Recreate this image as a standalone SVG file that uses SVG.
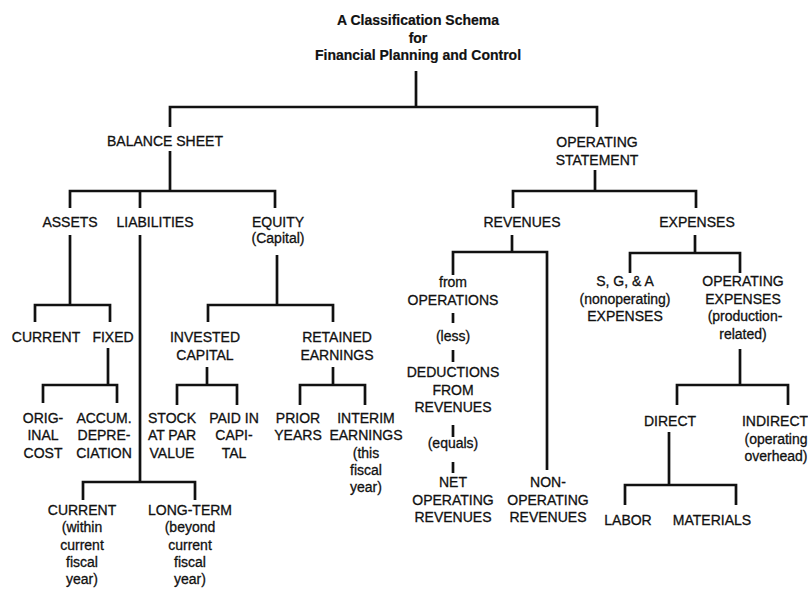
<svg xmlns="http://www.w3.org/2000/svg" width="808" height="592" viewBox="0 0 808 592">
  <style>
    text { font-family: "Liberation Sans", Arial, Helvetica, sans-serif; font-size: 14px; fill: #111; stroke: #111; stroke-width: 0.3; text-anchor: middle; }
    .title { font-weight: bold; stroke-width: 0.2; }
    .wire { fill: none; stroke: #111; stroke-width: 2.7; stroke-linejoin: miter; stroke-linecap: butt; }
  </style>
  <rect width="808" height="592" fill="#fff"/>

  <!-- tree connectors -->
  <g id="connectors" class="wire">
    <path d="M416,71 V107 M170,127 V107 H597 V127"/>
    <path d="M170,151 V191 M70,208 V191 H275 V208 M140,191 V208"/>
    <path d="M70,235 V305 M35,322 V305 H110 V322"/>
    <path d="M108,348 V385 M43,403 V385 H117 V403"/>
    <path d="M140,235 V482 M83,500 V482 H195 V500"/>
    <path d="M277,255 V305 M208,322 V305 H333 V322"/>
    <path d="M207,367 V385 M177,405 V385 H237 V405"/>
    <path d="M333,367 V385 M300,405 V385 H365 V405"/>
    <path d="M595,170 V191 M513,208 V191 H696 V208"/>
    <path d="M512,235 V252 M453,275 V252 H547 V470"/>
    <path d="M453,313 V323 M453,350 V362 M453,425 V437 M453,462 V473"/>
    <path d="M695,235 V253 M630,273 V253 H740 V273"/>
    <path d="M740,349 V385 M677,405 V385 H788 V405"/>
    <path d="M669,432 V485 M625,505 V485 H736 V505"/>
  </g>

  <g id="title">
    <text class="title" x="418" y="25">A Classification Schema</text>
    <text class="title" x="418" y="42.5">for</text>
    <text class="title" x="418" y="60">Financial Planning and Control</text>
  </g>

  <!-- balance sheet side -->
  <g id="balance-sheet"><text x="165" y="146">BALANCE SHEET</text></g>
  <g id="assets"><text x="70" y="227">ASSETS</text></g>
  <g id="liabilities"><text x="155" y="227">LIABILITIES</text></g>
  <g id="equity">
    <text x="278" y="227">EQUITY</text>
    <text x="278" y="243">(Capital)</text>
  </g>
  <g id="current-assets"><text x="46" y="342">CURRENT</text></g>
  <g id="fixed-assets"><text x="113" y="342">FIXED</text></g>
  <g id="original-cost">
    <text x="43" y="423">ORIG-</text>
    <text x="43" y="440">INAL</text>
    <text x="43" y="457.5">COST</text>
  </g>
  <g id="accum-depreciation">
    <text x="104" y="423">ACCUM.</text>
    <text x="104" y="440">DEPRE-</text>
    <text x="104" y="457.5">CIATION</text>
  </g>
  <g id="invested-capital">
    <text x="205" y="342">INVESTED</text>
    <text x="205" y="359.5">CAPITAL</text>
  </g>
  <g id="retained-earnings">
    <text x="337" y="342">RETAINED</text>
    <text x="337" y="359.5">EARNINGS</text>
  </g>
  <g id="stock-at-par">
    <text x="172" y="423">STOCK</text>
    <text x="172" y="440">AT PAR</text>
    <text x="172" y="457.5">VALUE</text>
  </g>
  <g id="paid-in-capital">
    <text x="234" y="423">PAID IN</text>
    <text x="234" y="440">CAPI-</text>
    <text x="234" y="457.5">TAL</text>
  </g>
  <g id="prior-years">
    <text x="298" y="423">PRIOR</text>
    <text x="298" y="440">YEARS</text>
  </g>
  <g id="interim-earnings">
    <text x="366" y="423">INTERIM</text>
    <text x="366" y="440">EARNINGS</text>
    <text x="366" y="457.5">(this</text>
    <text x="366" y="475">fiscal</text>
    <text x="366" y="492">year)</text>
  </g>
  <g id="current-liabilities">
    <text x="82" y="515">CURRENT</text>
    <text x="82" y="532">(within</text>
    <text x="82" y="549.5">current</text>
    <text x="82" y="567">fiscal</text>
    <text x="82" y="584">year)</text>
  </g>
  <g id="long-term-liabilities">
    <text x="190" y="515">LONG-TERM</text>
    <text x="190" y="532">(beyond</text>
    <text x="190" y="549.5">current</text>
    <text x="190" y="567">fiscal</text>
    <text x="190" y="584">year)</text>
  </g>

  <!-- operating statement side -->
  <g id="operating-statement">
    <text x="597" y="147">OPERATING</text>
    <text x="597" y="165">STATEMENT</text>
  </g>
  <g id="revenues"><text x="522" y="227">REVENUES</text></g>
  <g id="expenses"><text x="697" y="227">EXPENSES</text></g>
  <g id="from-operations">
    <text x="453" y="287">from</text>
    <text x="453" y="305">OPERATIONS</text>
  </g>
  <g id="less"><text x="453" y="341">(less)</text></g>
  <g id="deductions">
    <text x="453" y="377">DEDUCTIONS</text>
    <text x="453" y="394.5">FROM</text>
    <text x="453" y="412">REVENUES</text>
  </g>
  <g id="equals"><text x="453" y="448">(equals)</text></g>
  <g id="net-operating-revenues">
    <text x="453" y="487">NET</text>
    <text x="453" y="504.5">OPERATING</text>
    <text x="453" y="522">REVENUES</text>
  </g>
  <g id="non-operating-revenues">
    <text x="548" y="487">NON-</text>
    <text x="548" y="504.5">OPERATING</text>
    <text x="548" y="522">REVENUES</text>
  </g>
  <g id="sga-expenses">
    <text x="625" y="286">S, G, &amp; A</text>
    <text x="625" y="303.5">(nonoperating)</text>
    <text x="625" y="321">EXPENSES</text>
  </g>
  <g id="operating-expenses">
    <text x="743" y="286">OPERATING</text>
    <text x="743" y="303.5">EXPENSES</text>
    <text x="745" y="321">(production-</text>
    <text x="743" y="338.5">related)</text>
  </g>
  <g id="direct"><text x="670" y="426">DIRECT</text></g>
  <g id="indirect">
    <text x="775" y="426">INDIRECT</text>
    <text x="776" y="443.5">(operating</text>
    <text x="776" y="461">overhead)</text>
  </g>
  <g id="labor"><text x="628" y="525">LABOR</text></g>
  <g id="materials"><text x="712" y="525">MATERIALS</text></g>
</svg>
